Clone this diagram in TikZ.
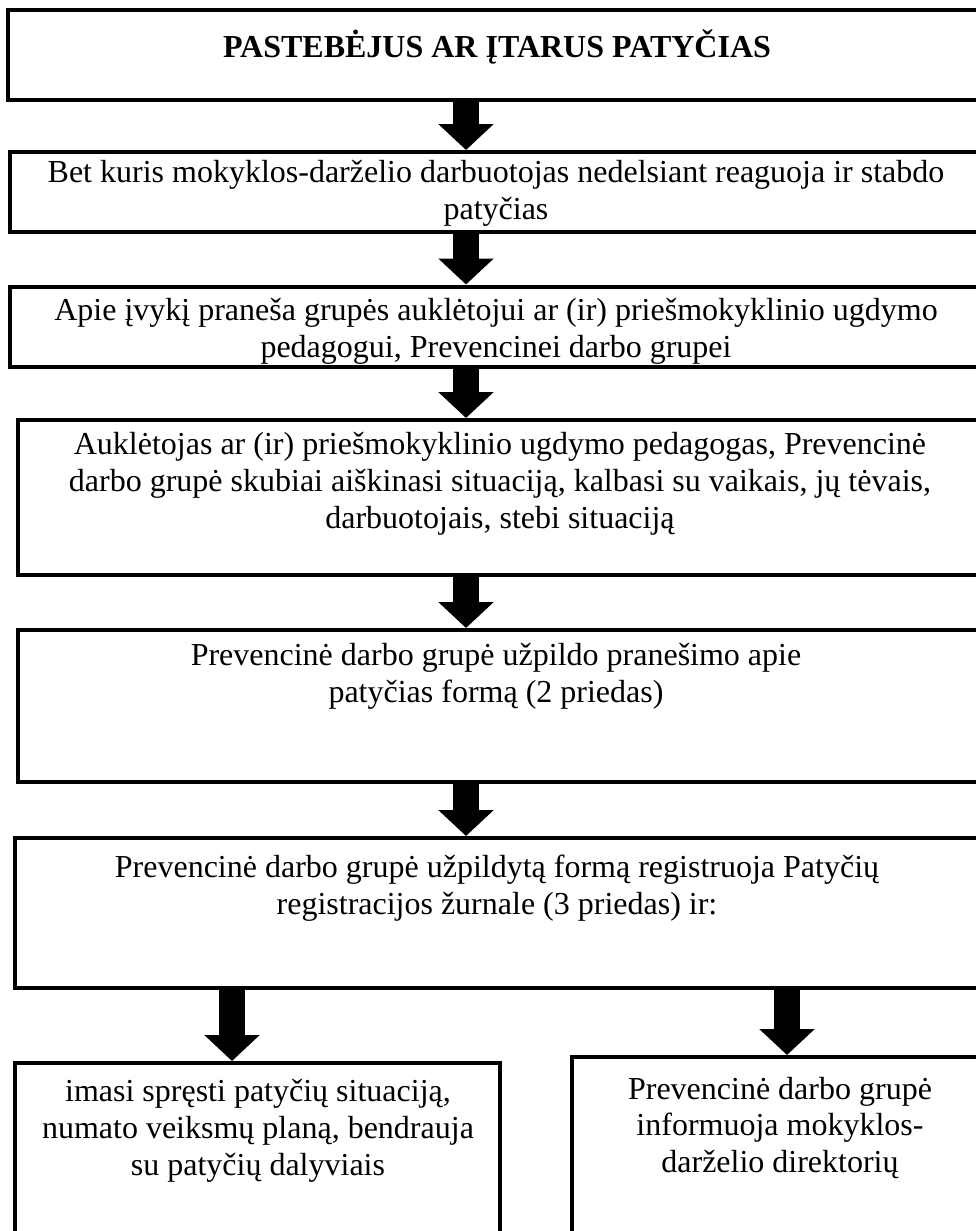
\documentclass[tikz,border=0pt]{standalone}
\usepackage{fontspec}
\setmainfont{Liberation Serif}
\usetikzlibrary{arrows.meta}
\usetikzlibrary{positioning}

\begin{document}
\begin{tikzpicture}[x=0.5pt,y=-0.5pt,
  stepbox/.style={draw=black,line width=2pt,inner sep=0pt},
  steptext/.style={align=center,inner sep=0pt,font=\fontsize{16pt}{18.4pt}\selectfont},
  blockarrow/.style={line width=13pt,-{Triangle[width=27pt,length=13pt]}}]
\useasboundingbox (0,0) rectangle (975,1231);
\node[stepbox,minimum width=488.5pt,minimum height=45pt] (b1) at (496.5,55) {};
\node[stepbox,minimum width=487.5pt,minimum height=40pt] (b2) at (497.5,192) {};
\node[stepbox,minimum width=487.5pt,minimum height=40pt] (b3) at (497.5,326.5) {};
\node[stepbox,minimum width=483.5pt,minimum height=77.5pt] (b4) at (501.5,497.5) {};
\node[stepbox,minimum width=483.5pt,minimum height=76pt] (b5) at (501.5,706) {};
\node[stepbox,minimum width=485pt,minimum height=75pt] (b6) at (500,913) {};
\node[stepbox,minimum width=242.5pt,minimum height=100pt] (b7) at (257.5,1163) {};
\node[stepbox,minimum width=214pt,minimum height=102.5pt] (b8) at (786,1159.5) {};

\node[steptext,font=\fontsize{16pt}{18.4pt}\selectfont\bfseries] (t1) at (497,47) {PASTEBĖJUS AR ĮTARUS PATYČIAS};
\node[steptext] (t2) at (496,193) {Bet kuris mokyklos-darželio darbuotojas nedelsiant reaguoja ir stabdo\\patyčias};
\node[steptext] (t3) at (496,331) {Apie įvykį praneša grupės auklėtojui ar (ir) priešmokyklinio ugdymo\\pedagogui, Prevencinei darbo grupei};
\node[steptext] (t4) at (500,484) {Auklėtojas ar (ir) priešmokyklinio ugdymo pedagogas, Prevencinė\\darbo grupė skubiai aiškinasi situaciją, kalbasi su vaikais, jų tėvais,\\darbuotojais, stebi situaciją};
\node[steptext] (t5) at (496,676) {Prevencinė darbo grupė užpildo pranešimo apie\\patyčias formą (2 priedas)};
\node[steptext] (t6) at (497,888) {Prevencinė darbo grupė užpildytą formą registruoja Patyčių\\registracijos žurnale (3 priedas) ir:};
\node[steptext] (t7) at (258,1131) {imasi spręsti patyčių situaciją,\\numato veiksmų planą, bendrauja\\su patyčių dalyviais};
\node[steptext] (t8) at (780,1128) {Prevencinė darbo grupė\\informuoja mokyklos-\\darželio direktorių};

\coordinate (ax) at (466,0);
\coordinate (axl) at (232,0);
\coordinate (axr) at (787,0);
\draw[blockarrow] (b1.south -| ax) -- (b2.north -| ax);
\draw[blockarrow] (b2.south -| ax) -- (b3.north -| ax);
\draw[blockarrow] (b3.south -| ax) -- (b4.north -| ax);
\draw[blockarrow] (b4.south -| ax) -- (b5.north -| ax);
\draw[blockarrow] (b5.south -| ax) -- (b6.north -| ax);
\draw[blockarrow] (b6.south -| axl) -- (b7.north -| axl);
\draw[blockarrow] (b6.south -| axr) -- (b8.north -| axr);
\end{tikzpicture}
\end{document}
